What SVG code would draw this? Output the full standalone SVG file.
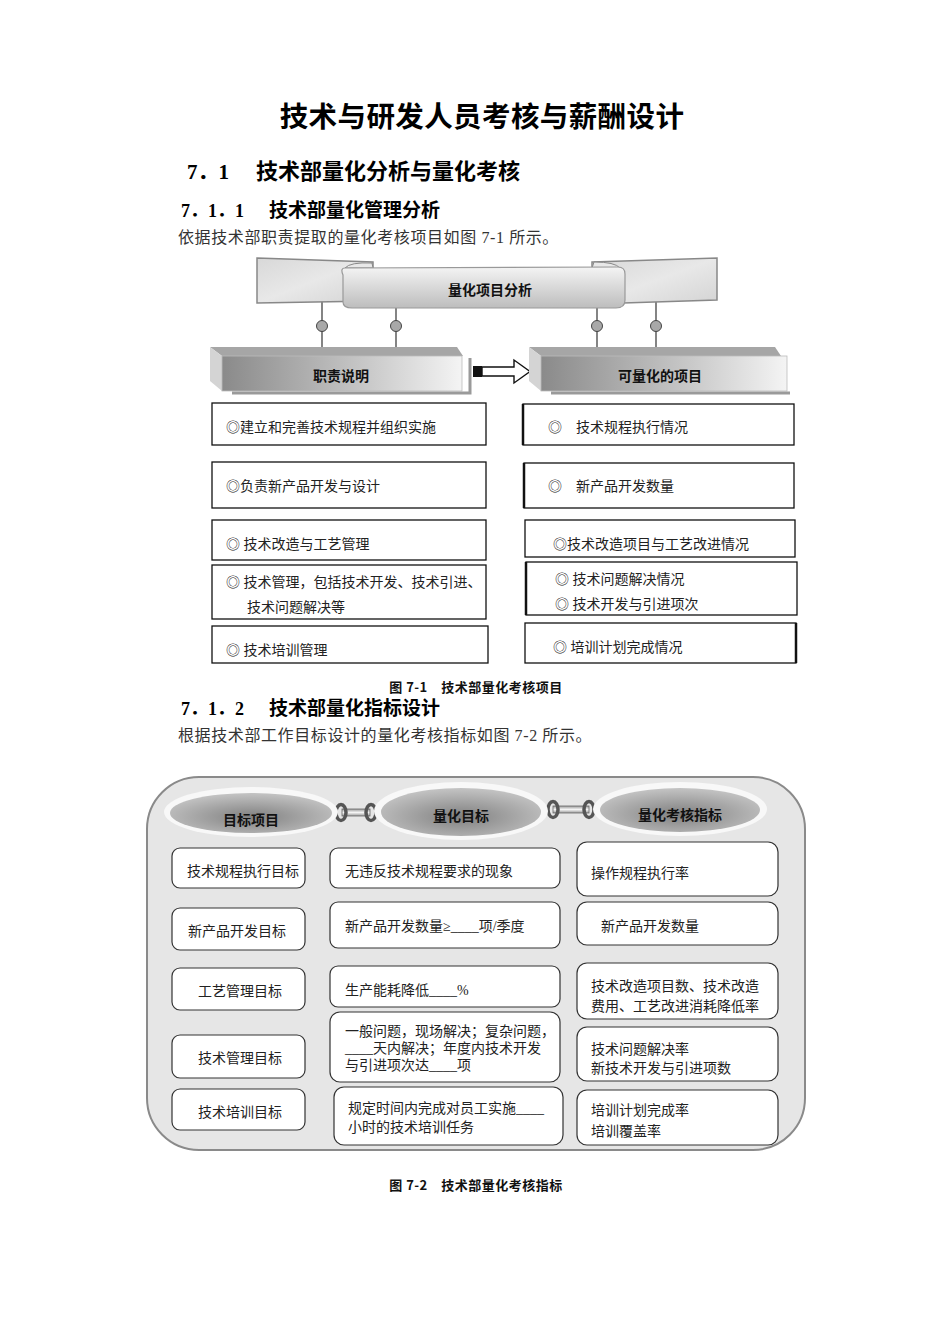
<svg xmlns="http://www.w3.org/2000/svg" width="950" height="1344" viewBox="0 0 950 1344">
<defs>
<style>
.h{font-family:"Noto Sans CJK SC","Liberation Sans",sans-serif;font-weight:bold;fill:#000}
.num{font-family:"Liberation Serif","Noto Sans CJK SC",serif;font-weight:bold;fill:#000}
.t{font-family:"Liberation Serif","Noto Sans CJK SC",serif;font-size:14px;fill:#222}
.b{font-family:"Liberation Serif","Noto Sans CJK SC",serif;font-size:16px;letter-spacing:0.6px;fill:#333}
.lbl{font-family:"Noto Sans CJK SC","Liberation Sans",sans-serif;font-size:14px;font-weight:bold;fill:#111;text-anchor:middle}
.lbox{fill:#fff;stroke:#111;stroke-width:1.3}
.rbox{fill:#fff;stroke:#333;stroke-width:1.2}
.conn{stroke:#333;stroke-width:1.2;fill:none}
.dot{fill:#a8a8a8;stroke:#444;stroke-width:1}
.cap{font-family:"Noto Sans CJK SC","Liberation Sans",sans-serif;font-size:13px;letter-spacing:0.5px;font-weight:bold;fill:#111;text-anchor:middle}
</style>
<linearGradient id="gBanner" x1="0" y1="0" x2="0" y2="1">
<stop offset="0" stop-color="#f4f4f4"/><stop offset="1" stop-color="#bdbdbd"/>
</linearGradient>
<linearGradient id="gPanel" x1="0" y1="0" x2="1" y2="1">
<stop offset="0" stop-color="#d8d8d8"/><stop offset="0.5" stop-color="#e8e8e8"/><stop offset="1" stop-color="#d4d4d4"/>
</linearGradient>
<linearGradient id="gFront" x1="0" y1="0" x2="1" y2="0">
<stop offset="0" stop-color="#8a8a8a"/><stop offset="0.6" stop-color="#c8c8c8"/><stop offset="1" stop-color="#f4f4f4"/>
</linearGradient>
<radialGradient id="gEll" cx="0.5" cy="0.6" r="0.6">
<stop offset="0" stop-color="#808080"/><stop offset="1" stop-color="#c4c4c4"/>
</radialGradient>
<linearGradient id="gBar" x1="0" y1="0" x2="0" y2="1">
<stop offset="0" stop-color="#999"/><stop offset="0.5" stop-color="#f4f4f4"/><stop offset="1" stop-color="#999"/>
</linearGradient>
</defs>
<rect width="950" height="1344" fill="#fff"/>

<g id="headings">
<text x="482" y="127" class="h" font-size="28.5" letter-spacing="0.4" text-anchor="middle">技术与研发人员考核与薪酬设计</text>
<text x="187" y="179" class="num" font-size="21">7．1</text>
<text x="256" y="179" class="h" font-size="22">技术部量化分析与量化考核</text>
<text x="181" y="217" class="num" font-size="18">7．1．1</text>
<text x="269" y="217" class="h" font-size="19">技术部量化管理分析</text>
<text x="178" y="243" class="b">依据技术部职责提取的量化考核项目如图 7-1 所示。</text>
</g>

<!-- Figure 7-1 -->
<g id="connectors1">
<line x1="322" y1="300" x2="322" y2="347" class="conn"/>
<line x1="396" y1="306" x2="396" y2="347" class="conn"/>
<line x1="597" y1="306" x2="597" y2="347" class="conn"/>
<line x1="656" y1="300" x2="656" y2="347" class="conn"/>
<circle cx="322" cy="326" r="5.5" class="dot"/>
<circle cx="396" cy="326" r="5.5" class="dot"/>
<circle cx="597" cy="326" r="5.5" class="dot"/>
<circle cx="656" cy="326" r="5.5" class="dot"/>
<g id="arrow">
<rect x="473" y="366" width="9" height="11" fill="#111"/>
<path d="M482,367 L514,367 L514,360 L530,371.5 L514,383 L514,376 L482,376 Z" fill="#fff" stroke="#111" stroke-width="1.4"/>
</g>
</g>

<g id="banner">
<polygon points="257,258 373,262 373,301 257,303" fill="url(#gPanel)" stroke="#888" stroke-width="1.5"/>
<polygon points="592,262 717,258 717,300 592,304" fill="url(#gPanel)" stroke="#888" stroke-width="1.5"/>
<path d="M345,268 Q350,262 372,263 L373,268 Z" fill="#e8e8e8" stroke="#888"/>
<path d="M620,268 Q615,262 594,262 L592,268 Z" fill="#e8e8e8" stroke="#888"/>
<path d="M345,268 Q340,268 343,275 L343,302 Q343,308 352,308 L616,308 Q625,308 625,300 L625,274 Q625,267 618,267 Z" fill="url(#gBanner)" stroke="#999" stroke-width="1.2"/>
<text x="490" y="295" class="lbl">量化项目分析</text>
</g>

<g id="duty">
<polygon points="210,347 457,347 463,356 222,356" fill="#a6a6a6"/>
<polygon points="210,347 222,356 222,391 210,381" fill="#d4d4d4"/>
<rect x="222" y="356" width="240" height="35" fill="url(#gFront)" stroke="#bbb" stroke-width="0.8"/>
<polyline points="232,393 470,393 470,358" fill="none" stroke="#9a9a9a" stroke-width="3"/>
<text x="341" y="381" class="lbl" font-size="13">职责说明</text>
</g>

<g id="quantifiable">
<polygon points="529,347 775,347 781,356 541,356" fill="#a6a6a6"/>
<polygon points="529,347 541,356 541,391 529,381" fill="#d4d4d4"/>
<rect x="541" y="356" width="246" height="35" fill="url(#gFront)" stroke="#bbb" stroke-width="0.8"/>
<polyline points="551,393 790,393" fill="none" stroke="#9a9a9a" stroke-width="3"/>
<text x="660" y="381" class="lbl" font-size="13">可量化的项目</text>
</g>

<g id="duty1"><rect x="212" y="403" width="274" height="42" class="lbox"/><text x="226" y="432" class="t">◎建立和完善技术规程并组织实施</text></g>
<g id="duty2"><rect x="212" y="462" width="274" height="46" class="lbox"/><text x="226" y="491" class="t">◎负责新产品开发与设计</text></g>
<g id="duty3"><rect x="212" y="520" width="274" height="40" class="lbox"/><text x="226" y="549" class="t">◎  技术改造与工艺管理</text></g>
<g id="duty4"><rect x="212" y="565" width="274" height="54" class="lbox" stroke-width="2"/><text x="226" y="587" class="t">◎  技术管理，包括技术开发、技术引进、</text><text x="247" y="612" class="t">技术问题解决等</text></g>
<g id="duty5"><rect x="212" y="626" width="276" height="37" class="lbox"/><text x="226" y="655" class="t">◎  技术培训管理</text></g>

<g id="item1"><rect x="523" y="404" width="271" height="41" class="lbox"/><path d="M523,404 V445" stroke="#111" stroke-width="2.5"/><text x="548" y="432" class="t">◎</text><text x="576" y="432" class="t">技术规程执行情况</text></g>
<g id="item2"><rect x="524" y="463" width="270" height="45" class="lbox"/><path d="M524,463 V508" stroke="#111" stroke-width="2.5"/><text x="548" y="491" class="t">◎</text><text x="576" y="491" class="t">新产品开发数量</text></g>
<g id="item3"><rect x="525" y="520" width="270" height="37" class="lbox"/><text x="553" y="549" class="t">◎技术改造项目与工艺改进情况</text></g>
<g id="item4"><rect x="526" y="562" width="271" height="53" class="lbox"/><path d="M526,562 V615" stroke="#111" stroke-width="2.5"/><text x="555" y="584" class="t">◎  技术问题解决情况</text><text x="555" y="609" class="t">◎  技术开发与引进项次</text></g>
<g id="item5"><rect x="525" y="623" width="271" height="40" class="lbox"/><path d="M796,623 V663" stroke="#111" stroke-width="2.5"/><text x="553" y="652" class="t">◎  培训计划完成情况</text></g>

<text x="476" y="692" class="cap">图 7-1　技术部量化考核项目</text>

<g id="headings2">
<text x="181" y="715" class="num" font-size="18">7．1．2</text>
<text x="269" y="715" class="h" font-size="19">技术部量化指标设计</text>
<text x="178" y="741" class="b">根据技术部工作目标设计的量化考核指标如图 7-2 所示。</text>
</g>

<!-- Figure 7-2 -->
<g id="panel">
<rect x="147" y="777" width="658" height="373" rx="52" fill="#e6e6e6" stroke="#8a8a8a" stroke-width="2"/>
</g>

<g id="connectors2">
<g id="link1">
<rect x="342" y="809" width="28" height="7" fill="url(#gBar)" stroke="#666" stroke-width="0.8"/>
<ellipse cx="341" cy="812.5" rx="5" ry="8" fill="none" stroke="#555" stroke-width="3.5"/>
<ellipse cx="371" cy="812.5" rx="5" ry="8" fill="none" stroke="#555" stroke-width="3.5"/>
</g>
<g id="link2">
<rect x="553" y="806" width="36" height="7" fill="url(#gBar)" stroke="#666" stroke-width="0.8"/>
<ellipse cx="553" cy="809.5" rx="5" ry="8" fill="none" stroke="#555" stroke-width="3.5"/>
<ellipse cx="589" cy="809.5" rx="5" ry="8" fill="none" stroke="#555" stroke-width="3.5"/>
</g>
</g>

<g id="head-target">
<ellipse cx="251" cy="812" rx="87" ry="25" fill="#f8f8f8"/>
<ellipse cx="251" cy="813" rx="81" ry="20" fill="url(#gEll)"/>
<text x="251" y="825" class="lbl" font-size="13">目标项目</text>
</g>
<g id="head-quant">
<ellipse cx="461" cy="811" rx="87" ry="29" fill="#f8f8f8"/>
<ellipse cx="461" cy="812" rx="80" ry="24" fill="url(#gEll)"/>
<text x="461" y="821" class="lbl" font-size="13">量化目标</text>
</g>
<g id="head-index">
<ellipse cx="680" cy="809" rx="87" ry="27" fill="#f8f8f8"/>
<ellipse cx="680" cy="810" rx="80" ry="22" fill="url(#gEll)"/>
<text x="680" y="820" class="lbl" font-size="13">量化考核指标</text>
</g>

<g id="t1"><rect x="172" y="848" width="133" height="40" rx="8" class="rbox"/><text x="243" y="876" class="t" text-anchor="middle">技术规程执行目标</text></g>
<g id="t2"><rect x="172" y="908" width="133" height="42" rx="8" class="rbox"/><text x="237" y="936" class="t" text-anchor="middle">新产品开发目标</text></g>
<g id="t3"><rect x="172" y="968" width="133" height="42" rx="8" class="rbox"/><text x="240" y="996" class="t" text-anchor="middle">工艺管理目标</text></g>
<g id="t4"><rect x="172" y="1035" width="133" height="43" rx="8" class="rbox"/><text x="240" y="1063" class="t" text-anchor="middle">技术管理目标</text></g>
<g id="t5"><rect x="172" y="1089" width="133" height="41" rx="8" class="rbox"/><text x="240" y="1117" class="t" text-anchor="middle">技术培训目标</text></g>

<g id="q1"><rect x="330" y="848" width="230" height="40" rx="8" class="rbox"/><text x="345" y="876" class="t">无违反技术规程要求的现象</text></g>
<g id="q2"><rect x="330" y="902" width="230" height="46" rx="8" class="rbox"/><text x="345" y="931" class="t">新产品开发数量≥____项/季度</text></g>
<g id="q3"><rect x="330" y="966" width="230" height="41" rx="8" class="rbox"/><text x="345" y="995" class="t">生产能耗降低____%</text></g>
<g id="q4"><rect x="330" y="1012" width="230" height="70" rx="10" class="rbox"/><text x="345" y="1036" class="t" font-size="13">一般问题，现场解决；复杂问题，</text><text x="345" y="1053" class="t" font-size="13">____天内解决；年度内技术开发</text><text x="345" y="1070" class="t" font-size="13">与引进项次达____项</text></g>
<g id="q5"><rect x="334" y="1087" width="229" height="58" rx="10" class="rbox"/><text x="348" y="1113" class="t" font-size="13.5">规定时间内完成对员工实施____</text><text x="348" y="1132" class="t" font-size="13.5">小时的技术培训任务</text></g>

<g id="k1"><rect x="577" y="842" width="201" height="54" rx="10" class="rbox"/><text x="591" y="878" class="t">操作规程执行率</text></g>
<g id="k2"><rect x="577" y="902" width="201" height="43" rx="10" class="rbox"/><text x="601" y="931" class="t">新产品开发数量</text></g>
<g id="k3"><rect x="577" y="963" width="201" height="56" rx="10" class="rbox"/><text x="591" y="991" class="t">技术改造项目数、技术改造</text><text x="591" y="1011" class="t">费用、工艺改进消耗降低率</text></g>
<g id="k4"><rect x="577" y="1027" width="201" height="54" rx="10" class="rbox"/><text x="591" y="1054" class="t">技术问题解决率</text><text x="591" y="1073" class="t">新技术开发与引进项数</text></g>
<g id="k5"><rect x="577" y="1090" width="201" height="55" rx="10" class="rbox"/><text x="591" y="1115" class="t">培训计划完成率</text><text x="591" y="1136" class="t">培训覆盖率</text></g>

<text x="476" y="1190" class="cap">图 7-2　技术部量化考核指标</text>
</svg>
